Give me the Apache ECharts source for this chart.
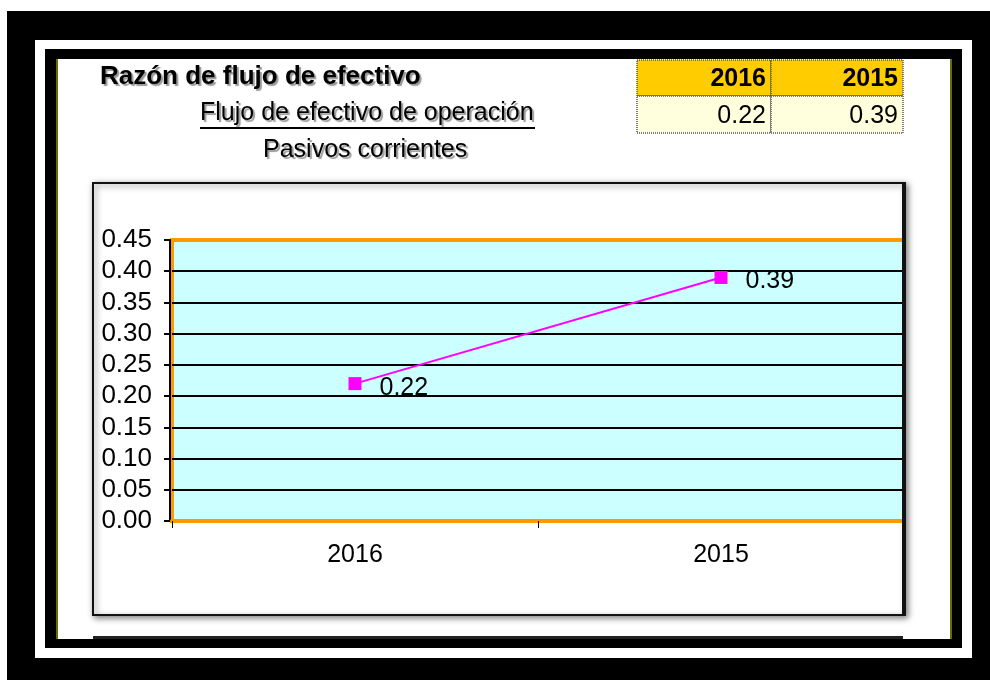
<!DOCTYPE html>
<html>
<head>
<meta charset="utf-8">
<script src="https://cdn.jsdelivr.net/npm/echarts@6/dist/echarts.min.js"></script>
<style>
  html, body { margin: 0; padding: 0; background: #fff; }
  #chart { width: 990px; height: 680px; }
</style>
</head>
<body>
<div id="chart"></div>
<script>
// datos
const categories = ['2016', '2015'];
const ratioValues = [0.22, 0.39];
const titleMain = 'Razón de flujo de efectivo';
const numeratorLabel = 'Flujo de efectivo de operación';
const denominatorLabel = 'Pasivos corrientes';
const yMin = 0, yMax = 0.45, yStep = 0.05;

const FONT = '"Liberation Sans", Arial, sans-serif';
const chart = echarts.init(document.getElementById('chart'));

// marco negro / blanco alrededor
const frame = [
  { type: 'rect', z: -20, shape: { x: 7, y: 11, width: 983, height: 669 }, style: { fill: '#000' } },
  { type: 'rect', z: -19, shape: { x: 35, y: 40, width: 937, height: 618 }, style: { fill: '#fff' } },
  { type: 'rect', z: -18, shape: { x: 45, y: 49, width: 917, height: 599 }, style: { fill: '#000' } },
  { type: 'rect', z: -17, shape: { x: 56, y: 59, width: 896, height: 580 }, style: { fill: '#6e6a00' } },
  { type: 'rect', z: -16, shape: { x: 58, y: 59, width: 892, height: 580 }, style: { fill: '#fff' } },
  // caja del grafico
  { type: 'rect', z: -15, shape: { x: 93, y: 183, width: 812, height: 432 },
    style: { fill: '#fff', stroke: '#111', lineWidth: 2, shadowBlur: 6, shadowColor: 'rgba(0,0,0,0.5)', shadowOffsetX: 2, shadowOffsetY: 2 } },
  { type: 'rect', z: -15, shape: { x: 93, y: 636, width: 810, height: 3 }, style: { fill: '#222' } },
  // borde derecho de la caja, encima del area de trazado
  { type: 'rect', z: 10, shape: { x: 902, y: 183, width: 4, height: 432 }, style: { fill: '#111' } }
];

// titulos
const shadowText = { textShadowColor: '#9a9a9a', textShadowOffsetX: 2, textShadowOffsetY: 2, textShadowBlur: 1 };
const titles = [
  { type: 'text', left: 100, top: 64, style: Object.assign({ text: titleMain, font: 'bold 26px ' + FONT, fill: '#000' }, shadowText) },
  { type: 'text', left: 200, top: 101, style: Object.assign({ text: numeratorLabel, font: '25px ' + FONT, fill: '#000' }, shadowText) },
  { type: 'rect', shape: { x: 200, y: 127, width: 335, height: 2 }, style: { fill: '#000' } },
  { type: 'text', left: 263, top: 138, style: Object.assign({ text: denominatorLabel, font: '25px ' + FONT, fill: '#000' }, shadowText) }
];

// tabla con los valores
const table = [];
const colX = [637, 771, 903];
categories.forEach((c, i) => {
  const x0 = colX[i], w = colX[i + 1] - colX[i];
  table.push({ type: 'rect', shape: { x: x0, y: 60, width: w, height: 36 },
    style: { fill: '#ffcc00', stroke: '#555', lineWidth: 1.5, lineDash: [1, 1] } });
  table.push({ type: 'rect', shape: { x: x0, y: 96, width: w, height: 37 },
    style: { fill: '#ffffdd', stroke: '#555', lineWidth: 1.5, lineDash: [1, 1] } });
  table.push({ type: 'text', style: { text: c, x: x0 + w - 5, y: 79, align: 'right', verticalAlign: 'middle', font: 'bold 25px ' + FONT, fill: '#000' } });
  table.push({ type: 'text', style: { text: ratioValues[i].toFixed(2), x: x0 + w - 5, y: 116, align: 'right', verticalAlign: 'middle', font: '25px ' + FONT, fill: '#000' } });
});

const splitColors = [];
for (let v = yMin; v <= yMax + 1e-9; v += yStep) splitColors.push('#000');
splitColors[0] = '#ff9900';
splitColors[splitColors.length - 1] = '#ff9900';

const option = {
  animation: false,
  backgroundColor: '#fff',
  graphic: frame.concat(titles, table),
  grid: {
    left: 172, right: 86, top: 240, bottom: 159,
    show: true, backgroundColor: '#ccffff', borderColor: '#ff9900', borderWidth: 4
  },
  xAxis: {
    type: 'category',
    data: categories,
    boundaryGap: true,
    axisLine: { lineStyle: { color: '#ff9900', width: 4 } },
    axisTick: { show: true, length: 7, lineStyle: { color: '#000', width: 1 } },
    axisLabel: { color: '#000', fontSize: 25, fontFamily: FONT, margin: 22 }
  },
  yAxis: {
    type: 'value',
    min: yMin, max: yMax, interval: yStep,
    offset: 2,
    axisLine: { show: true, lineStyle: { color: '#000', width: 2 } },
    axisTick: { show: true, length: 6, lineStyle: { color: '#000', width: 2 } },
    axisLabel: { color: '#000', fontSize: 26, fontFamily: FONT, margin: 18, formatter: v => v.toFixed(2) },
    splitLine: { show: true, lineStyle: { color: splitColors, width: 2 } }
  },
  series: [{
    type: 'line',
    data: ratioValues,
    symbol: 'rect',
    symbolSize: 13,
    itemStyle: { color: '#ff00ff' },
    lineStyle: { color: '#ff00ff', width: 2 },
    label: {
      show: true, position: 'right', distance: 18, offset: [0, 4],
      color: '#000', fontSize: 25, fontFamily: FONT,
      formatter: p => p.value.toFixed(2)
    }
  }]
};

chart.setOption(option);
</script>
</body>
</html>
